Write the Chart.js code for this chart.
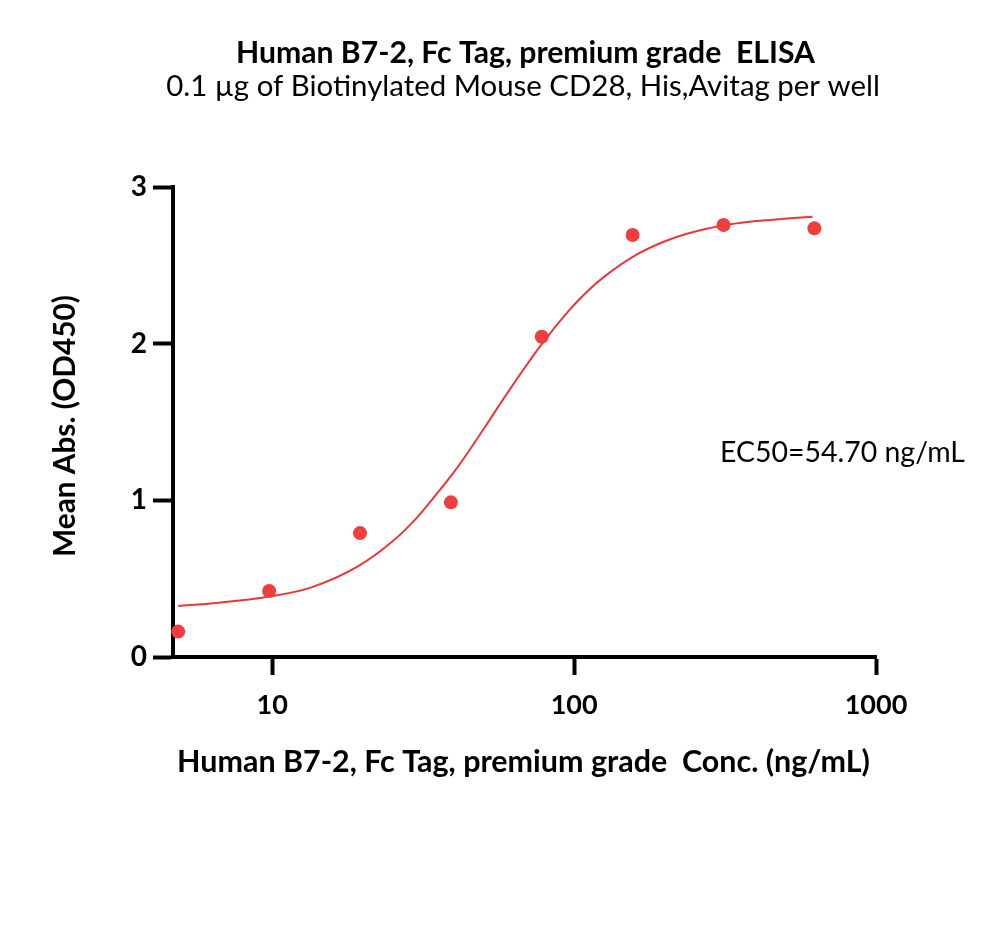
<!DOCTYPE html>
<html>
<head>
<meta charset="utf-8">
<script src="https://cdn.jsdelivr.net/npm/chart.js@4.4.1/dist/chart.umd.min.js"></script>
<style>
  html, body { margin: 0; padding: 0; background: #ffffff; }
  canvas { display: block; }
</style>
</head>
<body>
<canvas id="c" width="1000" height="935"></canvas>
<script>
// ---- data ----
const concentrations = [4.88, 9.77, 19.53, 39.06, 78.13, 156.25, 312.5, 625];
const meanAbs = [0.162, 0.421, 0.791, 0.987, 2.044, 2.694, 2.757, 2.736];

// fitted curve
const fitConc = [4.88, 6.5, 9.70, 13.4, 19.4, 25.2, 30, 34, 39.8, 45, 51.7, 58, 66.4, 78.0, 97.0, 110, 125, 162, 200, 238, 311, 380, 446, 520, 616];
const fitAbs  = [0.325, 0.345, 0.385, 0.443, 0.583, 0.743, 0.885, 1.01, 1.175, 1.32, 1.494, 1.64, 1.807, 1.996, 2.22, 2.33, 2.423, 2.571, 2.654, 2.703, 2.754, 2.778, 2.79, 2.80, 2.81];

const xTickValues = [10, 100, 1000];
const yTickValues = [0, 1, 2, 3];

const titleText = 'Human B7-2, Fc Tag, premium grade  ELISA';
const subtitleText = '0.1 \u00b5g of Biotinylated Mouse CD28, His,Avitag per well';
const xTitleText = 'Human B7-2, Fc Tag, premium grade  Conc. (ng/mL)';
const yTitleText = 'Mean Abs. (OD450)';
const ec50Text = 'EC50=54.70 ng/mL';

const FONT = 'Lato, "Open Sans", "DejaVu Sans", sans-serif';
const RED_POINT = '#f03e3e';
const RED_LINE = '#e8383a';

// text placed by fitting each string into its measured box
const textItems = [
  { text: titleText, weight: 'bold', cx: 525.5, base: 63, width: 579 },
  { text: subtitleText, weight: 'normal', cx: 523, base: 96, width: 714 },
  { text: xTitleText, weight: 'bold', cx: 523.5, base: 772, width: 693 },
  { text: ec50Text, weight: 'normal', cx: 842.5, base: 462, width: 245 },
  { text: yTitleText, weight: 'bold', cx: 426, base: 75, width: 262, rotate: true }
];

const textPlugin = {
  id: 'freeText',
  afterDraw(chart) {
    const ctx = chart.ctx;
    textItems.forEach(t => {
      ctx.save();
      ctx.font = t.weight + ' 100px ' + FONT;
      const w100 = ctx.measureText(t.text).width;
      const size = 100 * t.width / w100;
      ctx.font = t.weight + ' ' + size.toFixed(2) + 'px ' + FONT;
      ctx.fillStyle = '#000';
      ctx.textAlign = 'center';
      ctx.textBaseline = 'alphabetic';
      if (t.rotate) {
        ctx.translate(t.base, t.cx);
        ctx.rotate(-Math.PI / 2);
        ctx.fillText(t.text, 0, 0);
      } else {
        ctx.fillText(t.text, t.cx, t.base);
      }
      ctx.restore();
    });
  }
};

const bgPlugin = {
  id: 'bg',
  beforeDraw(chart) {
    const ctx = chart.ctx;
    ctx.save();
    ctx.fillStyle = '#fff';
    ctx.fillRect(0, 0, chart.width, chart.height);
    ctx.restore();
  }
};

new Chart(document.getElementById('c'), {
  type: 'scatter',
  data: {
    datasets: [
      {
        label: 'fit',
        data: fitConc.map((x, i) => ({ x: x, y: fitAbs[i] })),
        showLine: true,
        borderColor: RED_LINE,
        borderWidth: 2,
        pointRadius: 0,
        cubicInterpolationMode: 'monotone',
        fill: false,
        clip: false,
        order: 2
      },
      {
        label: 'Mean Abs.',
        data: concentrations.map((x, i) => ({ x: x, y: meanAbs[i] })),
        showLine: false,
        backgroundColor: RED_POINT,
        borderColor: RED_POINT,
        borderWidth: 0,
        pointRadius: 7,
        clip: false,
        order: 1
      }
    ]
  },
  options: {
    responsive: false,
    animation: false,
    devicePixelRatio: 1,
    layout: { padding: { top: 187, right: 124, left: 0, bottom: 0 } },
    plugins: {
      legend: { display: false },
      tooltip: { enabled: false },
      title: { display: false }
    },
    scales: {
      x: {
        type: 'logarithmic',
        min: 4.69,
        max: 1000,
        afterBuildTicks: s => { s.ticks = xTickValues.map(v => ({ value: v, major: true })); },
        afterFit: s => { s.height = 278; },
        ticks: {
          color: '#000',
          font: { family: FONT, weight: 'bold', size: 27 },
          padding: 14,
          maxRotation: 0,
          autoSkip: false,
          callback: v => String(v)
        },
        grid: {
          drawOnChartArea: false,
          drawTicks: true,
          tickLength: 18,
          tickWidth: 4,
          tickColor: '#000',
          color: '#000'
        },
        border: { display: true, color: '#000', width: 4 }
      },
      y: {
        min: 0,
        max: 3,
        afterBuildTicks: s => { s.ticks = yTickValues.map(v => ({ value: v })); },
        afterFit: s => { s.width = 173; },
        ticks: {
          color: '#000',
          font: { family: FONT, weight: 'bold', size: 28 },
          padding: 6,
          autoSkip: false,
          callback: v => String(v)
        },
        grid: {
          drawOnChartArea: false,
          drawTicks: true,
          tickLength: 20,
          tickWidth: 4,
          tickColor: '#000',
          color: '#000'
        },
        border: { display: true, color: '#000', width: 4 }
      }
    }
  },
  plugins: [bgPlugin, textPlugin]
});
</script>
</body>
</html>
